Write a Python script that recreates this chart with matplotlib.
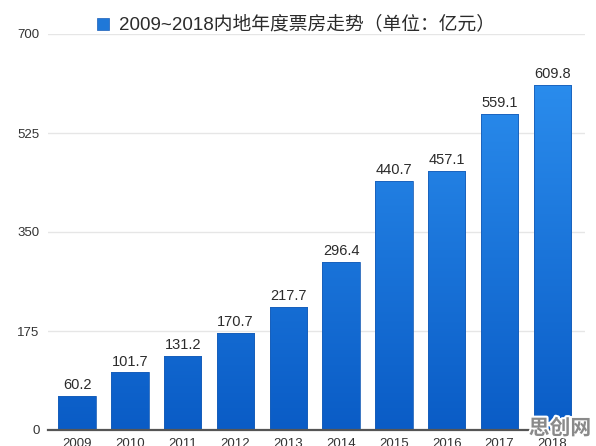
import numpy as np
import matplotlib.pyplot as plt
import matplotlib.patheffects as pe
from matplotlib.colors import LinearSegmentedColormap

plt.rcParams['font.family'] = ['Liberation Sans', 'Noto Sans CJK SC', 'DejaVu Sans']

years = ['2009', '2010', '2011', '2012', '2013', '2014', '2015', '2016', '2017', '2018']
box_office = [60.2, 101.7, 131.2, 170.7, 217.7, 296.4, 440.7, 457.1, 559.1, 609.8]
y_ticks = [0, 175, 350, 525, 700]
legend_text = '2009~2018内地年度票房走势（单位：亿元）'

W, H = 596, 446
fig = plt.figure(figsize=(W / 100, H / 100), dpi=100)
ax = fig.add_axes([48 / W, 16 / H, (585 - 48) / W, (430 - 34) / H])

x = np.arange(len(years))
bars = ax.bar(x, box_office, width=0.71, color='none', edgecolor='#1a5fb8',
              linewidth=0.6, zorder=3)

# vertical gradient inside each bar: lighter on top, darker at the bottom
grad_cmap = LinearSegmentedColormap.from_list('blu', ['#0a5cc6', '#2f93f2'])
grad = np.linspace(0, 1, 256).reshape(-1, 1)
for b in bars:
    x0, w, h = b.get_x(), b.get_width(), b.get_height()
    im = ax.imshow(grad, cmap=grad_cmap, origin='lower', aspect='auto',
                   extent=[x0, x0 + w, 0, 700], zorder=2)
    im.set_clip_path(b)
    ax.text(x0 + w / 2, h + 7, f'{h:.1f}', ha='center', va='bottom',
            fontsize=10.5, color='#2b2b2b', zorder=4)

ax.set_xlim(-0.55, 9.62)
ax.set_ylim(0, 700)
ax.set_yticks(y_ticks)
ax.set_yticklabels([str(t) for t in y_ticks], fontsize=9.5, color='#333333')
ax.set_xticks(x)
ax.set_xticklabels(years, fontsize=9.5, color='#333333')
ax.tick_params(length=0, pad=6)
ax.tick_params(axis='x', pad=6)
ax.grid(axis='y', color='#e6e6e6', linewidth=1.0, zorder=0)
for s in ['top', 'right', 'left']:
    ax.spines[s].set_visible(False)
ax.spines['bottom'].set_color('#555555')
ax.spines['bottom'].set_linewidth(1.6)
ax.spines['bottom'].set_zorder(5)

# legend-like header
fig.patches.append(plt.Rectangle((97 / W, 1 - 30 / H), 12 / W, 12 / H,
                                 transform=fig.transFigure,
                                 facecolor='#1f78d8', edgecolor='#1a5fb8', linewidth=0.5))
fig.text(119 / W, 1 - 24 / H, legend_text, fontsize=13.5, color='#2b2b2b',
         ha='left', va='center')

# watermark
fig.text(560 / W, 1 - 428 / H, '思创网', fontsize=15, fontweight='bold', color='#8a8a8a',
         ha='center', va='center', family=['Noto Sans CJK SC'], zorder=10,
         path_effects=[pe.withStroke(linewidth=3, foreground='white')])

fig.savefig('out.png', dpi=100)
